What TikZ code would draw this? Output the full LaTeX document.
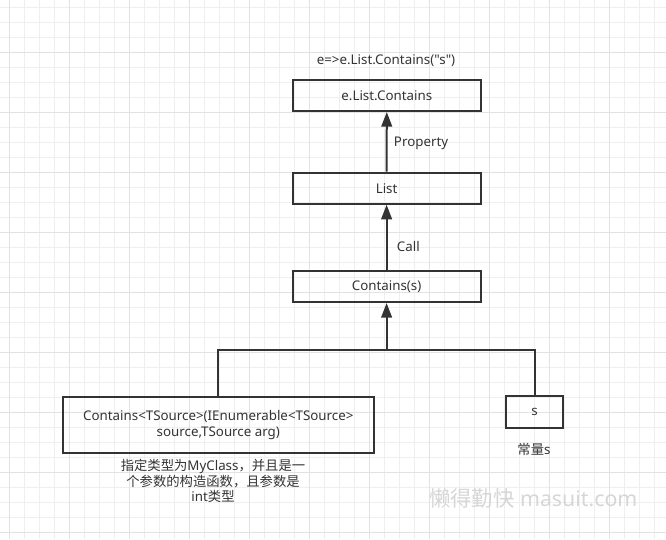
\documentclass[tikz,border=0pt]{standalone}
\usepackage{fontspec}
\setmainfont{Noto Sans}[Ligatures=TeXOff]
\newfontfamily\cjk{Noto Sans CJK SC}
\usetikzlibrary{arrows.meta}
\definecolor{linea}{HTML}{333333}
\definecolor{rejilla}{HTML}{EFEFEF}
\definecolor{rejillab}{HTML}{E2E2E2}
\definecolor{marca}{HTML}{D6D6D6}

\begin{document}
\begin{tikzpicture}[x=0.75pt,y=-0.75pt,
    caja/.style={draw=linea,line width=1.5pt,minimum height=23.25pt,inner sep=0pt,text=linea,font=\fontsize{10}{12}\selectfont},
    texto/.style={text=linea,inner sep=0pt,font=\fontsize{10}{12}\selectfont},
    flecha/.style={draw=linea,line width=1.5pt,-{Triangle[length=11pt,width=8pt]}},
    rama/.style={draw=linea,line width=1.5pt}]
    \useasboundingbox (0,0) rectangle (666,539);
    % Rejilla de fondo
    \foreach \i in {0,...,43}
        \draw[rejilla,line width=0.75pt] ({9.3+15*\i},0) -- ({9.3+15*\i},539);
    \foreach \j in {0,...,35}
        \draw[rejilla,line width=0.75pt] (0,{7.3+15*\j}) -- (666,{7.3+15*\j});
    \foreach \i in {0,...,10}
        \draw[rejillab,line width=0.75pt] ({9.3+60*\i},0) -- ({9.3+60*\i},539);
    \foreach \j in {0,...,8}
        \draw[rejillab,line width=0.75pt] (0,{52.3+60*\j}) -- (666,{52.3+60*\j});

    % Cajas
    \node[texto] (lambda) at (386,61) {e=>e.List.Contains("s")};
    \node[caja,minimum width=141pt] (miembro) at (386.8,95.5) {e.List.Contains};
    \node[caja,minimum width=141pt] (lista) at (386.6,188.2) {List};
    \node[caja,minimum width=141pt] (contiene) at (386.6,286.5) {Contains(s)};
    \node[caja,minimum width=233.5pt,minimum height=42.5pt,align=center] (metodo) at (218.3,425)
        {Contains<TSource>(IEnumerable<TSource>\\source,TSource arg)};
    \node[caja,minimum width=43.2pt,minimum height=23.8pt] (cte) at (534.5,412.2) {s};

    % Notas
    \node[texto,align=center,font=\fontsize{10}{11.5}\selectfont] (notametodo) at (213,481)
        {{\cjk 指定类型为}MyClass{\cjk ，并且是一}\\{\cjk 个参数的构造函数，且参数是}\\int{\cjk 类型}};
    \node[texto] (notacte) at (534,449) {{\cjk 常量}s};
    \node[text=marca,inner sep=0pt,font=\fontsize{16}{18}\selectfont] (marca) at (533.3,498) {{\cjk 懒得勤快} masuit.com};

    % Conectores
    \coordinate (union) at (386.6,350.3);
    \draw[rama] (metodo.north) |- (union) -| (cte.north);
    \draw[flecha] (union) -- (contiene.south);
    \draw[flecha] (contiene.north) -- node[texto,pos=0.36,anchor=west,xshift=7pt] (call) {Call} (lista.south);
    \draw[flecha] (lista.north) -- node[texto,pos=0.47,anchor=west,xshift=4.7pt] (prop) {Property} (miembro.south);
\end{tikzpicture}
\end{document}
